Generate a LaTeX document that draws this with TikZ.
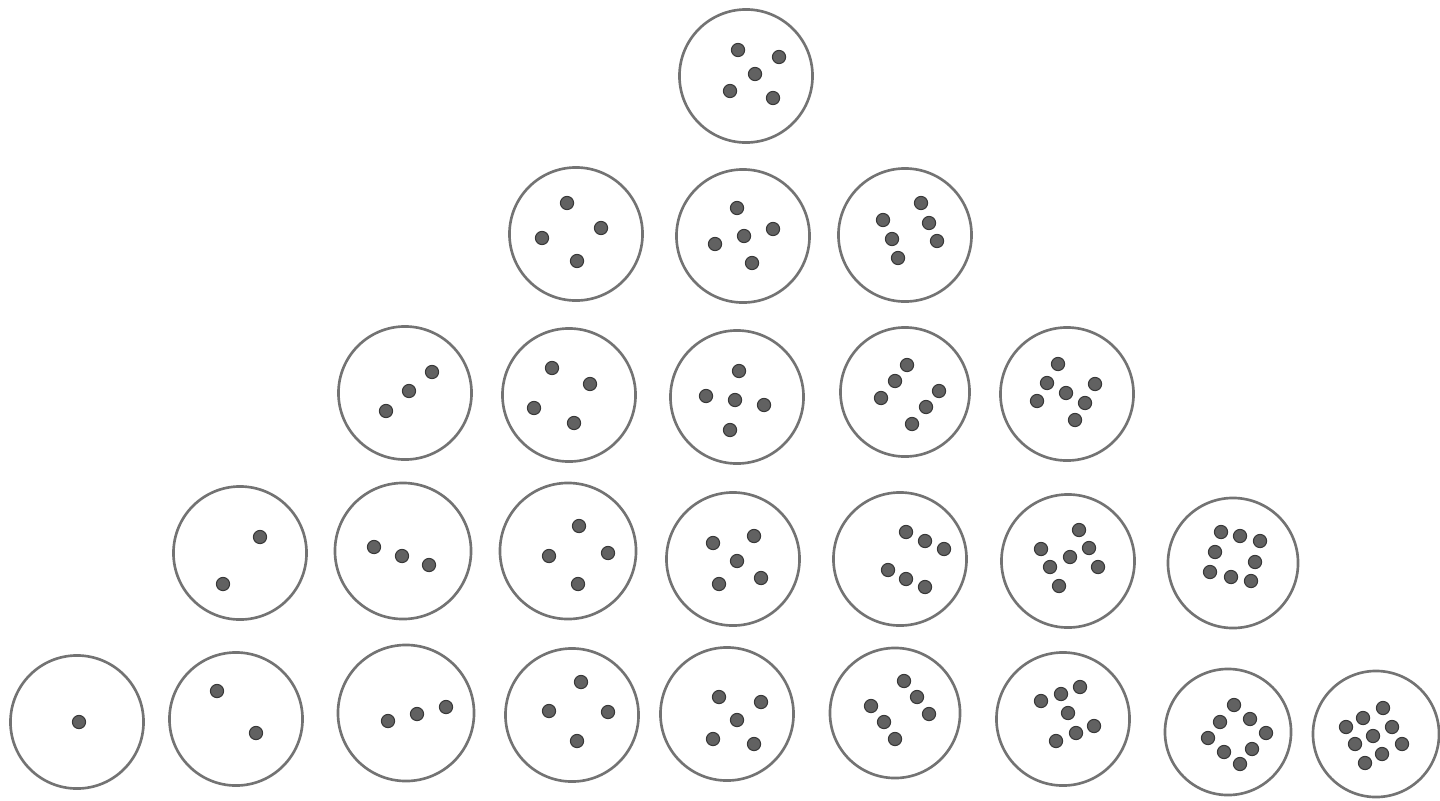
\documentclass[tikz,border=0pt]{standalone}
\usepackage{tikz}
\usetikzlibrary{positioning}

\begin{document}
\begin{tikzpicture}[x=0.01cm, y=-0.01cm,
    pan/.style={draw=black!55, line width=0.75pt, circle, inner sep=0pt, minimum size=1.33cm},
    bead/.style={fill=black!62, draw=black!78, line width=0.3pt}]
    \useasboundingbox (0,0) rectangle (1440,800);

    % Row 1
    \node[pan] (p11) at (746,76) {};
    \foreach \p in {(738,50),(779,57),(755,74),(730,91),(773,98)}
        \filldraw[bead] \p circle[radius=0.066cm];

    % Row 2
    \node[pan] (p21) at (576,234) {};
    \foreach \p in {(567,203),(601,228),(542,238),(577,261)}
        \filldraw[bead] \p circle[radius=0.066cm];
    \node[pan] (p22) at (743,236) {};
    \foreach \p in {(737,208),(773,229),(744,236),(715,244),(752,263)}
        \filldraw[bead] \p circle[radius=0.066cm];
    \node[pan] (p23) at (905,235) {};
    \foreach \p in {(921,203),(883,220),(929,223),(892,239),(937,241),(898,258)}
        \filldraw[bead] \p circle[radius=0.066cm];

    % Row 3
    \node[pan] (p31) at (405,393) {};
    \foreach \p in {(432,372),(409,391),(386,411)}
        \filldraw[bead] \p circle[radius=0.066cm];
    \node[pan] (p32) at (569,395) {};
    \foreach \p in {(552,368),(590,384),(534,408),(574,423)}
        \filldraw[bead] \p circle[radius=0.066cm];
    \node[pan] (p33) at (737,397) {};
    \foreach \p in {(739,371),(706,396),(735,400),(764,405),(730,430)}
        \filldraw[bead] \p circle[radius=0.066cm];
    \node[pan, minimum size=1.29cm] (p34) at (905,392) {};
    \foreach \p in {(907,365),(895,381),(881,398),(939,391),(926,407),(912,424)}
        \filldraw[bead] \p circle[radius=0.066cm];
    \node[pan] (p35) at (1067,394) {};
    \foreach \p in {(1058,364),(1047,383),(1095,384),(1066,393),(1037,401),(1085,403),(1075,420)}
        \filldraw[bead] \p circle[radius=0.066cm];

    % Row 4
    \node[pan] (p41) at (240,553) {};
    \foreach \p in {(260,537),(223,584)}
        \filldraw[bead] \p circle[radius=0.066cm];
    \node[pan, minimum size=1.36cm] (p42) at (403,551) {};
    \foreach \p in {(374,547),(402,556),(429,565)}
        \filldraw[bead] \p circle[radius=0.066cm];
    \node[pan, minimum size=1.36cm] (p43) at (568,551) {};
    \foreach \p in {(579,526),(549,556),(608,553),(578,584)}
        \filldraw[bead] \p circle[radius=0.066cm];
    \node[pan] (p44) at (733,559) {};
    \foreach \p in {(713,543),(754,536),(737,561),(719,584),(761,578)}
        \filldraw[bead] \p circle[radius=0.066cm];
    \node[pan] (p45) at (900,559) {};
    \foreach \p in {(906,532),(925,541),(944,549),(888,570),(906,579),(925,587)}
        \filldraw[bead] \p circle[radius=0.066cm];
    \node[pan] (p46) at (1068,561) {};
    \foreach \p in {(1079,530),(1041,549),(1089,548),(1070,557),(1050,567),(1098,567),(1059,586)}
        \filldraw[bead] \p circle[radius=0.066cm];
    \node[pan, minimum size=1.3cm] (p47) at (1233,563) {};
    \foreach \p in {(1221,532),(1240,536),(1260,541),(1215,552),(1255,562),(1210,572),(1231,577),(1251,581)}
        \filldraw[bead] \p circle[radius=0.066cm];

    % Row 5
    \node[pan] (p51) at (77,722) {};
    \filldraw[bead] (79,722) circle[radius=0.066cm];
    \node[pan] (p52) at (236,719) {};
    \foreach \p in {(217,691),(256,733)}
        \filldraw[bead] \p circle[radius=0.066cm];
    \node[pan, minimum size=1.36cm] (p53) at (406,713) {};
    \foreach \p in {(388,721),(417,714),(446,707)}
        \filldraw[bead] \p circle[radius=0.066cm];
    \node[pan] (p54) at (572,715) {};
    \foreach \p in {(581,682),(549,711),(608,712),(577,741)}
        \filldraw[bead] \p circle[radius=0.066cm];
    \node[pan] (p55) at (727,714) {};
    \foreach \p in {(719,697),(761,702),(737,720),(713,739),(754,744)}
        \filldraw[bead] \p circle[radius=0.066cm];
    \node[pan, minimum size=1.3cm] (p56) at (895,713) {};
    \foreach \p in {(904,681),(917,697),(929,714),(871,706),(884,722),(895,739)}
        \filldraw[bead] \p circle[radius=0.066cm];
    \node[pan] (p57) at (1063,719) {};
    \foreach \p in {(1041,701),(1061,694),(1080,687),(1068,713),(1056,741),(1076,733),(1094,726)}
        \filldraw[bead] \p circle[radius=0.066cm];
    \node[pan, minimum size=1.26cm] (p58) at (1228,732) {};
    \foreach \p in {(1234,705),(1220,722),(1250,719),(1266,733),(1208,738),(1224,752),(1252,749),(1240,764)}
        \filldraw[bead] \p circle[radius=0.066cm];
    \node[pan, minimum size=1.26cm] (p59) at (1376,734) {};
    \foreach \p in {(1383,708),(1363,718),(1392,727),(1346,727),(1373,736),(1402,744),(1355,744),(1382,754),(1365,763)}
        \filldraw[bead] \p circle[radius=0.066cm];
\end{tikzpicture}
\end{document}
